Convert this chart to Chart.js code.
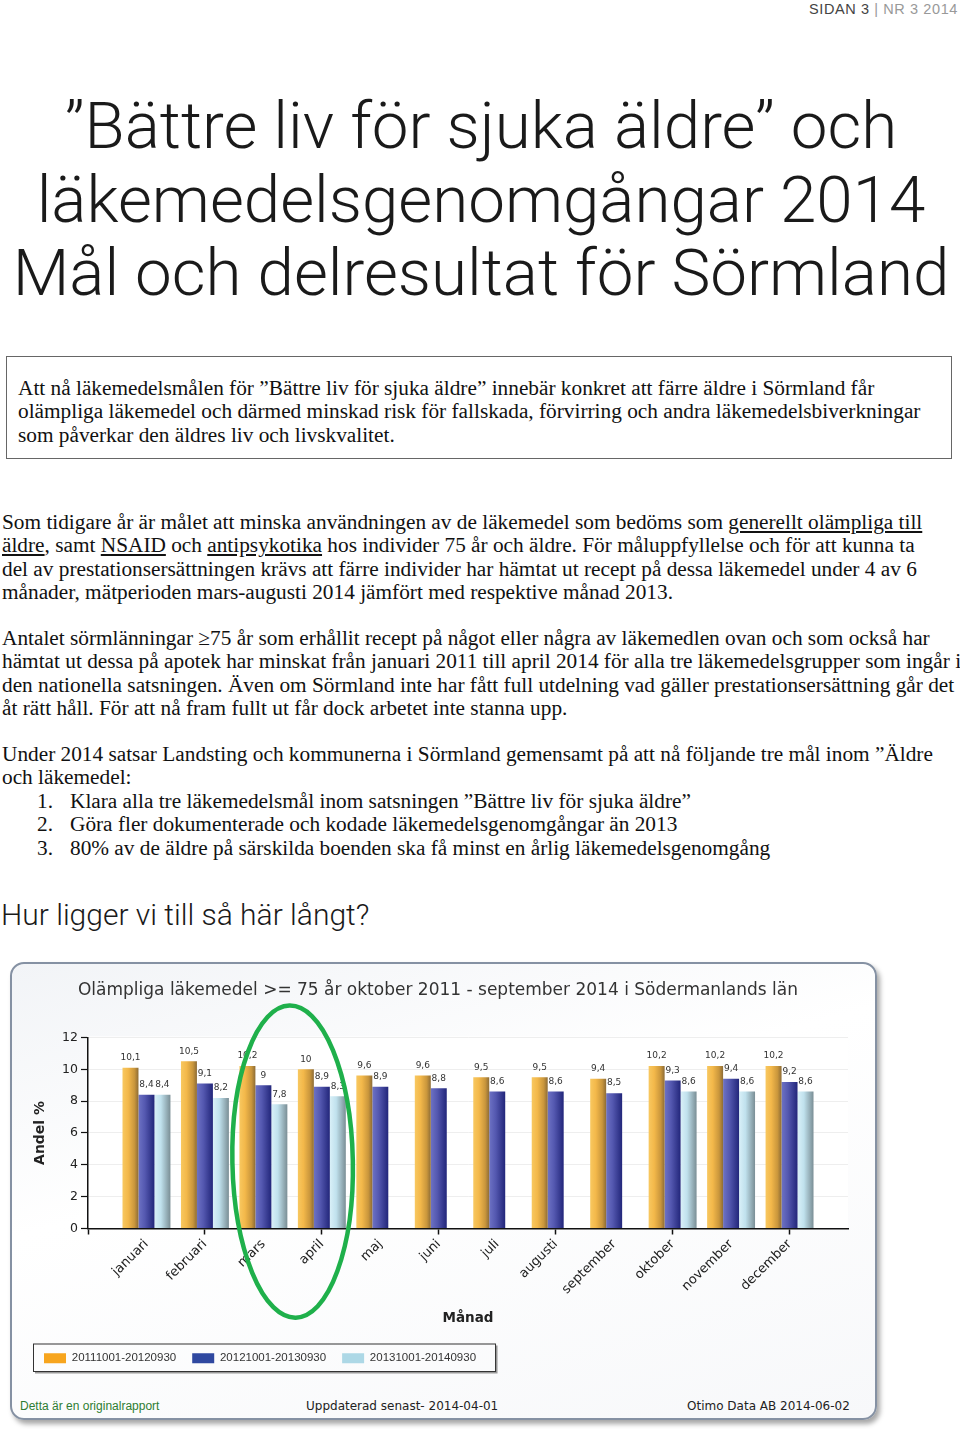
<!DOCTYPE html>
<html lang="sv">
<head>
<meta charset="utf-8">
<title>Bättre liv för sjuka äldre – Sörmland 2014</title>
<script src="https://cdn.jsdelivr.net/npm/chart.js@4.4.1/dist/chart.umd.min.js"></script>
<style>
  html, body { margin: 0; padding: 0; background: #fff; }
  body { width: 960px; height: 1429px; position: relative; overflow: hidden; }
  .abs { position: absolute; white-space: nowrap; }
  .hdr { right: 2px; top: 0; font: 14.5px/18px 'Liberation Sans', sans-serif; color: #444; letter-spacing: 0.6px; }
  .hdr span { color: #999; }
  .h1 { left: 0; width: 962px; text-align: center; font-family: Roboto, 'Liberation Sans', sans-serif;
        font-weight: 300; font-size: 65.5px; line-height: 65.5px; color: #1a1a1a; }
  .serif { font-family: 'Liberation Serif', 'Times New Roman', serif; font-size: 21.3px; line-height: 23.4px; color: #111; }
  .frame { left: 6px; top: 356px; width: 944px; height: 101px; border: 1.5px solid #666; }
  .h2 { left: 1px; top: 900px; font-family: Roboto, 'Liberation Sans', sans-serif; font-weight: 300;
        font-size: 30px; line-height: 30px; color: #1a1a1a; }
  #chartbox { position: absolute; left: 10px; top: 962px; width: 863px; height: 454px;
              border: 2px solid #8591a3; border-radius: 14px; box-shadow: 3px 4px 5px rgba(0,0,0,.35);
              background: linear-gradient(165deg, #f2f4f7 0%, #ffffff 40%, #f7f8fa 100%); }
  #chart { position: absolute; left: 10px; top: 962px; }
  .foot { top: 1398px; font: 12px/16px 'DejaVu Sans', sans-serif; color: #222; }
</style>
</head>
<body>

<div class="abs hdr">SIDAN 3 <span>| NR 3 2014</span></div>

<div class="abs h1" style="top:93px">”Bättre liv för sjuka äldre” och</div>
<div class="abs h1" style="top:167px">läkemedelsgenomgångar 2014</div>
<div class="abs h1" style="top:240px">Mål och delresultat för Sörmland</div>

<div class="abs frame"></div>
<div class="abs serif" style="left:18px; top:377px">
Att nå läkemedelsmålen för ”Bättre liv för sjuka äldre” innebär konkret att färre äldre i Sörmland får<br>
olämpliga läkemedel och därmed minskad risk för fallskada, förvirring och andra läkemedelsbiverkningar<br>
som påverkar den äldres liv och livskvalitet.
</div>

<div class="abs serif" style="left:2px; top:511px">
Som tidigare år är målet att minska användningen av de läkemedel som bedöms som <u>generellt olämpliga till </u><br>
<u>äldre</u>, samt <u>NSAID</u> och <u>antipsykotika</u> hos individer 75 år och äldre. För måluppfyllelse och för att kunna ta<br>
del av prestationsersättningen krävs att färre individer har hämtat ut recept på dessa läkemedel under 4 av 6<br>
månader, mätperioden mars-augusti 2014 jämfört med respektive månad 2013.
</div>

<div class="abs serif" style="left:2px; top:627px">
Antalet sörmlänningar ≥75 år som erhållit recept på något eller några av läkemedlen ovan och som också har<br>
hämtat ut dessa på apotek har minskat från januari 2011 till april 2014 för alla tre läkemedelsgrupper som ingår i<br>
den nationella satsningen. Även om Sörmland inte har fått full utdelning vad gäller prestationsersättning går det<br>
åt rätt håll. För att nå fram fullt ut får dock arbetet inte stanna upp.
</div>

<div class="abs serif" style="left:2px; top:743px">
Under 2014 satsar Landsting och kommunerna i Sörmland gemensamt på att nå följande tre mål inom ”Äldre<br>
och läkemedel:
</div>
<div class="abs serif" style="left:37px; top:790px">1.<br>2.<br>3.</div>
<div class="abs serif" style="left:70px; top:790px">
Klara alla tre läkemedelsmål inom satsningen ”Bättre liv för sjuka äldre”<br>
Göra fler dokumenterade och kodade läkemedelsgenomgångar än 2013<br>
80% av de äldre på särskilda boenden ska få minst en årlig läkemedelsgenomgång
</div>

<div class="abs h2">Hur ligger vi till så här långt?</div>

<div id="chartbox"></div>
<canvas id="chart" width="865" height="420"></canvas>

<div class="abs foot" style="left:20px; color:#2e7d32; font-family:'Liberation Sans',sans-serif">Detta är en originalrapport</div>
<div class="abs foot" style="left:306px">Uppdaterad senast- 2014-04-01</div>
<div class="abs foot" style="left:687px">Otimo Data AB 2014-06-02</div>

<script>
// Data
const months = ['januari', 'februari', 'mars', 'april', 'maj', 'juni', 'juli',
                'augusti', 'september', 'oktober', 'november', 'december'];
const seriesNames = ['20111001-20120930', '20121001-20130930', '20131001-20140930'];
const period2012 = [10.1, 10.5, 10.2, 10, 9.6, 9.6, 9.5, 9.5, 9.4, 10.2, 10.2, 10.2];
const period2013 = [8.4, 9.1, 9, 8.9, 8.9, 8.8, 8.6, 8.6, 8.5, 9.3, 9.4, 9.2];
const period2014 = [8.4, 8.2, 7.8, 8.3, null, null, null, null, null, 8.6, 8.6, 8.6];
const yMin = 0, yMax = 12, yStep = 2;

// hand drawn ring around mars-april
const ringFrom = 'mars', ringTo = 'april', ringTop = 14, ringBottom = -5.6;

// legend swatches and the shaded bar fills
const swatches = ['#f7a51e', '#2f48a0', '#add8e6'];
const shades = [
  [[0, '#f8c860'], [0.35, '#f3b84a'], [0.75, '#c9963c'], [1, '#8d6c36']],
  [[0, '#6d72c4'], [0.4, '#5458b0'], [1, '#22267a']],
  [[0, '#d9f0f8'], [0.4, '#c0e1ed'], [1, '#7a8e95']]
];

// empty slot at each end so the months sit like in the original
const labels = [''].concat(months, ['']);
const pad = arr => [null].concat(arr, [null]);

Chart.defaults.font.family = "'DejaVu Sans', Verdana, sans-serif";
Chart.defaults.color = '#222';

const plotBg = {
  id: 'plotBg',
  beforeDraw(chart) {
    const {ctx, chartArea: a} = chart;
    ctx.save();
    ctx.fillStyle = '#fff';
    ctx.fillRect(a.left, a.top - 1, a.right - a.left, a.bottom - a.top + 1);
    ctx.restore();
  }
};

const barShading = {
  id: 'barShading',
  beforeDatasetsDraw(chart) {
    const ctx = chart.ctx;
    chart.data.datasets.forEach((ds, i) => {
      chart.getDatasetMeta(i).data.forEach(bar => {
        if (!bar.options || !isFinite(bar.x) || !isFinite(bar.width)) return;
        const g = ctx.createLinearGradient(bar.x - bar.width / 2, 0, bar.x + bar.width / 2, 0);
        shades[i].forEach(s => g.addColorStop(s[0], s[1]));
        bar.options.backgroundColor = g;
      });
    });
  }
};

const valueLabels = {
  id: 'valueLabels',
  afterDatasetsDraw(chart) {
    const ctx = chart.ctx;
    ctx.save();
    ctx.font = "9px 'DejaVu Sans'";
    ctx.fillStyle = '#333';
    ctx.textAlign = 'center';
    ctx.textBaseline = 'middle';
    chart.data.datasets.forEach((ds, i) => {
      chart.getDatasetMeta(i).data.forEach((bar, j) => {
        const v = ds.data[j];
        if (v == null) return;
        ctx.fillText(String(v).replace('.', ','), bar.x, bar.y - 10);
      });
    });
    ctx.restore();
  }
};

const legendFrame = {
  id: 'legendFrame',
  afterDraw(chart) {
    const hb = chart.legend.legendHitBoxes;
    if (!hb || !hb.length) return;
    const last = hb[hb.length - 1];
    const l = hb[0].left - 11, t = hb[0].top - 9;
    const r = last.left + last.width + 19, b = hb[0].top + hb[0].height + 7;
    const ctx = chart.ctx;
    ctx.save();
    ctx.strokeStyle = '#999';
    ctx.lineWidth = 2;
    ctx.beginPath();
    ctx.moveTo(r + 1.5, t + 2); ctx.lineTo(r + 1.5, b + 1.5); ctx.lineTo(l + 2, b + 1.5);
    ctx.stroke();
    ctx.strokeStyle = '#333';
    ctx.lineWidth = 1;
    ctx.strokeRect(l + 0.5, t + 0.5, r - l, b - t);
    ctx.restore();
  }
};

const ring = {
  id: 'ring',
  afterDraw(chart) {
    const x = chart.scales.x, y = chart.scales.y;
    const x1 = x.getPixelForValue(labels.indexOf(ringFrom));
    const x2 = x.getPixelForValue(labels.indexOf(ringTo));
    const yt = y.getPixelForValue(ringTop), yb = y.getPixelForValue(ringBottom);
    const ctx = chart.ctx;
    ctx.save();
    ctx.strokeStyle = '#1fb04b';
    ctx.lineWidth = 4.5;
    ctx.beginPath();
    ctx.ellipse((x1 + x2) / 2, (yt + yb) / 2, (x2 - x1) / 2 + 31, (yb - yt) / 2, -0.02, 0, Math.PI * 2);
    ctx.stroke();
    ctx.restore();
  }
};

new Chart(document.getElementById('chart'), {
  type: 'bar',
  data: {
    labels: labels,
    datasets: [period2012, period2013, period2014].map((d, i) => ({
      label: seriesNames[i],
      data: pad(d),
      backgroundColor: () => swatches[i],
      borderWidth: 0,
      categoryPercentage: 0.82,
      barPercentage: 1.0
    }))
  },
  options: {
    responsive: false,
    animation: false,
    events: [],
    layout: { padding: { left: 18, right: 27, top: 0, bottom: 8 } },
    plugins: {
      title: {
        display: true,
        text: 'Olämpliga läkemedel >= 75 år oktober 2011 - september 2014 i Södermanlands län',
        font: { size: 17, weight: 'normal' },
        color: '#333',
        padding: { top: 18, bottom: 37 }
      },
      legend: {
        position: 'bottom',
        align: 'start',
        labels: {
          boxWidth: 22,
          boxHeight: 10,
          padding: 16,
          color: '#333',
          font: { family: "'Liberation Sans', sans-serif", size: 11.5 }
        }
      },
      tooltip: { enabled: false }
    },
    scales: {
      x: {
        type: 'category',
        offset: false,
        grid: {
          offset: false,
          drawOnChartArea: false,
          tickLength: 6,
          tickWidth: 1.5,
          tickColor: ctx => (ctx.index % 2 === 0 ? '#111' : 'rgba(0,0,0,0)')
        },
        border: { color: '#111', width: 1.5 },
        ticks: {
          autoSkip: false,
          minRotation: 45,
          maxRotation: 45,
          padding: 2,
          color: '#222',
          font: { size: 13 }
        },
        title: {
          display: true,
          text: 'Månad',
          color: '#222',
          font: { size: 13.5, weight: 'bold' },
          padding: { top: 0, bottom: 10 }
        },
        afterFit: s => { s.height = 108; }
      },
      y: {
        min: yMin,
        max: yMax,
        ticks: { stepSize: yStep, padding: 3, color: '#222', font: { size: 12.5 } },
        grid: { color: '#eeeeee', tickColor: '#111', tickLength: 7, tickWidth: 1.2 },
        border: { color: '#111', width: 1.5 },
        title: {
          display: true,
          text: 'Andel %',
          color: '#222',
          font: { size: 14, weight: 'bold' }
        },
        afterFit: s => { s.width = 60; }
      }
    }
  },
  plugins: [plotBg, barShading, valueLabels, legendFrame, ring]
});
</script>
</body>
</html>
